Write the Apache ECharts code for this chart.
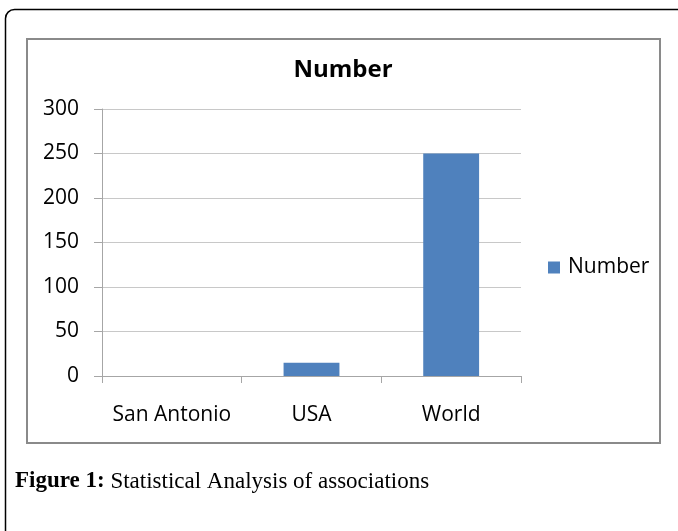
<!DOCTYPE html>
<html>
<head>
<meta charset="utf-8">
<script src="https://cdn.jsdelivr.net/npm/echarts@6/dist/echarts.min.js"></script>
<style>html,body{margin:0;padding:0;background:#fff}#c{width:678px;height:531px}</style>
</head>
<body>
<div id="c"></div>
<script>
const categories = ['San Antonio', 'USA', 'World'];
const numberValues = [0, 15, 250];
const seriesName = 'Number';
const chartTitle = 'Number';
const captionBold = 'Figure 1:';
const captionText = ' Statistical Analysis of associations';

const chart = echarts.init(document.getElementById('c'), null, {renderer: 'canvas'});
const font = '"Open Sans", "Noto Sans", sans-serif';
chart.setOption({
  animation: false,
  title: {
    text: chartTitle,
    left: 338, top: 53, textAlign: 'center',
    textStyle: {fontFamily: font, fontWeight: 'bold', fontSize: 24, color: '#000'}
  },
  legend: {
    data: [seriesName],
    left: 543, top: 252,
    itemWidth: 12, itemHeight: 12, itemGap: 0,
    icon: 'rect',
    textStyle: {fontFamily: font, fontSize: 21, color: '#000', padding: [0, 0, 0, 3]}
  },
  grid: {left: 102, right: 157, top: 109, bottom: 155, containLabel: false},
  xAxis: {
    type: 'category',
    data: categories,
    boundaryGap: true,
    axisLine: {lineStyle: {color: '#a6a6a6', width: 1}},
    axisTick: {show: true, length: 7, lineStyle: {color: '#a6a6a6'}},
    axisLabel: {interval: 0, hideOverlap: false, fontFamily: font, fontSize: 21, color: '#000', margin: 29}
  },
  yAxis: {
    type: 'value',
    min: 0, max: 300, interval: 50,
    axisLine: {show: true, lineStyle: {color: '#a6a6a6', width: 1}},
    axisTick: {show: true, length: 8, lineStyle: {color: '#a6a6a6'}},
    splitLine: {lineStyle: {color: '#c8c8c8', width: 1}},
    axisLabel: {fontFamily: font, fontSize: 21, color: '#000', margin: 23}
  },
  series: [{
    name: seriesName,
    type: 'bar',
    data: numberValues,
    barWidth: '40%',
    itemStyle: {color: '#4f81bd'}
  }],
  graphic: [
    {type: 'rect', shape: {x: 5.5, y: 9.5, width: 700, height: 540, r: 9}, style: {fill: null, stroke: '#000', lineWidth: 1.5}, silent: true},
    {type: 'rect', shape: {x: 27, y: 39, width: 633, height: 404}, style: {fill: null, stroke: '#8a8a8a', lineWidth: 2}, silent: true},
    {type: 'text', left: 15, top: 470, style: {
      text: '{b|' + captionBold + '}{n|' + captionText + '}',
      rich: {
        b: {fontFamily: '"Liberation Serif", serif', fontWeight: 'bold', fontSize: 23, fill: '#000'},
        n: {fontFamily: '"Liberation Serif", serif', fontSize: 23, fill: '#000'}
      }
    }}
  ]
});
</script>
</body>
</html>
